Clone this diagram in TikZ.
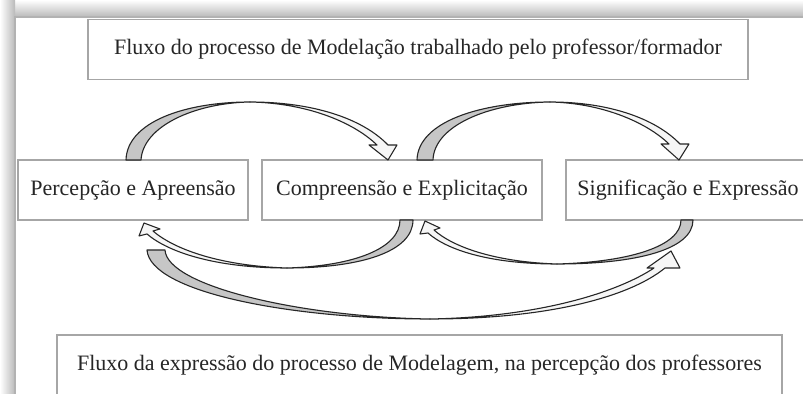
\documentclass[tikz,border=0pt]{standalone}
\usepackage{fontspec}
\setmainfont{Liberation Serif}
\usepackage{tikz}

\tikzset{
	caixa/.style={draw=gray!70, line width=0.6pt, inner sep=0pt, text=black!85,
		font=\fontsize{11}{13}\selectfont, minimum height=30pt},
	sombra/.style={draw=black!85, fill=gray!45, line width=0.55pt, line join=round},
	face/.style={draw=black!85, fill=gray!7, line width=0.55pt, line join=round}
}

\begin{document}
\begin{tikzpicture}[x=0.5pt, y=-0.5pt]
	\useasboundingbox (0,0) rectangle (803,394);
	% folha com sombra
	\shade[top color=white, bottom color=gray!55] (0,0) rectangle (803,17);
	\shade[left color=white, right color=gray!55] (0,0) rectangle (15,394);
	\fill[white] (15,17) rectangle (830,420);
	\draw[gray!60, line width=0.6pt] (15,420) -- (15,17) -- (830,17);

	\node[caixa, minimum width=330pt] (modelacao) at (418,49.5) {Fluxo do processo de Modelação trabalhado pelo professor/formador};
	\node[caixa, minimum width=115pt] (percepcao) at (133,190) {Percepção e Apreensão};
	\node[caixa, minimum width=140pt] (compreensao) at (402,190) {Compreensão e Explicitação};
	\node[caixa, minimum width=122pt] (significacao) at (688,190) {Significação e Expressão};
	\node[caixa, minimum width=362.5pt] (expressao) at (419.5,365) {Fluxo da expressão do processo de Modelagem, na percepção dos professores};

	% percepcao -> compreensao
	\draw[sombra] (126,160) .. controls (127,122) and (185,102) .. (250,102)
		.. controls (195,103) and (143,126) .. (141,160) -- cycle;
	\draw[face] (250,102) .. controls (312,102) and (362,118) .. (388,145) -- (397,145) -- (388,160) -- (369,145) -- (377,145)
		.. controls (352,121) and (305,103) .. (250,102) -- cycle;

	% compreensao -> significacao
	\draw[sombra] (417,160) .. controls (418,122) and (480,102) .. (550,102)
		.. controls (488,103) and (434,126) .. (433,160) -- cycle;
	\draw[face] (550,102) .. controls (608,102) and (655,118) .. (680,144) -- (689,144) -- (679,160) -- (661,144) -- (669,144)
		.. controls (645,121) and (600,103) .. (550,102) -- cycle;

	% compreensao -> percepcao
	\draw[sombra] (413,220) .. controls (413,252) and (360,268) .. (287,268)
		.. controls (355,266) and (400,248) .. (400,220) -- cycle;
	\draw[face] (287,268) .. controls (215,268) and (168,252) .. (147,234) -- (139,236) -- (144,223) -- (160,229) -- (153,231)
		.. controls (175,250) and (222,266) .. (287,268) -- cycle;

	% significacao -> compreensao
	\draw[sombra] (693,220) .. controls (693,250) and (635,264) .. (557,264)
		.. controls (630,262) and (681,246) .. (681,220) -- cycle;
	\draw[face] (557,264) .. controls (490,264) and (447,250) .. (428,233) -- (420,234) -- (425,221) -- (440,228) -- (434,230)
		.. controls (453,247) and (495,262) .. (557,264) -- cycle;

	% percepcao -> significacao
	\draw[sombra] (147,250) .. controls (150,292) and (290,319) .. (430,319)
		.. controls (300,317) and (167,286) .. (165,250) -- cycle;
	\draw[face] (430,319) .. controls (545,319) and (628,298) .. (665,268) -- (680,268) -- (671,251) -- (647,268) -- (654,268)
		.. controls (618,292) and (540,317) .. (430,319) -- cycle;
\end{tikzpicture}
\end{document}
